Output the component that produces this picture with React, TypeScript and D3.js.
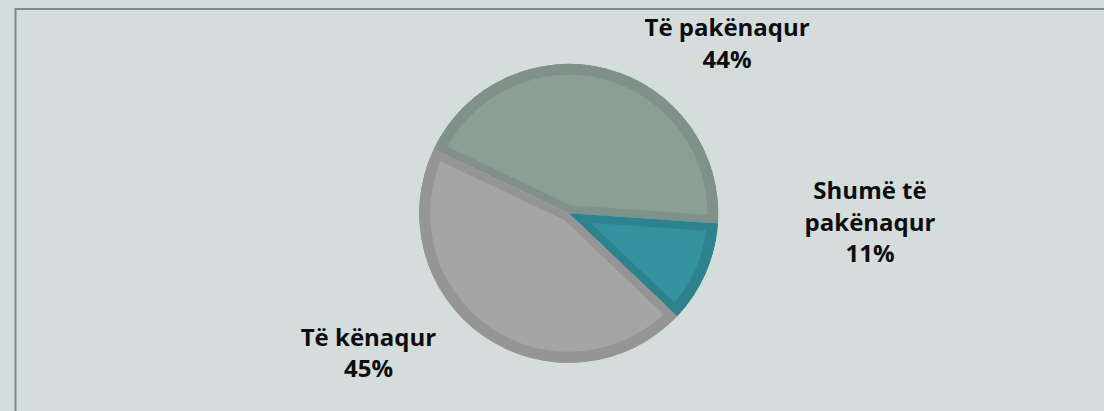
import React from 'react';
import * as d3 from 'd3';

// ---- data ----
const categories = ['Të pakënaqur', 'Shumë të pakënaqur', 'Të kënaqur'];
const values = [44, 11, 45];
const labelLines = [
  ['Të pakënaqur', '44%'],
  ['Shumë të', 'pakënaqur', '11%'],
  ['Të kënaqur', '45%'],
];
const fillColors = ['#8c9f97', '#35929f', '#a5a5a5'];
const strokeColors = ['#7f9189', '#2e828d', '#959595'];

// ---- layout ----
const W = 1104;
const H = 411;
const CX = 568.7;
const CY = 213.3;
const R = 149.5;
const RING = 11; // outer ring thickness
const EDGE = 8; // radial edge band thickness (per slice)
const START_DEG = -64.5;
// label anchors in polar form (degrees clockwise from top, radius as multiple of R)
const labelPolar = [
  { deg: 44.5, k: 1.512 },
  { deg: 93.3, k: 2.019 },
  { deg: 233.5, k: 1.666 },
];
const LINE_H = 31.5;

export default function App() {
  const toRad = (d: number) => (d * Math.PI) / 180;
  const pie = d3
    .pie<number>()
    .sort(null)
    .value((d) => d)
    .startAngle(toRad(START_DEG))
    .endAngle(toRad(START_DEG + 360));
  const arcs = pie(values);
  const arc = d3.arc<d3.PieArcDatum<number>>().innerRadius(0).outerRadius(R);
  const ring = d3.arc<d3.PieArcDatum<number>>().innerRadius(R - RING).outerRadius(R);
  const tr = `translate(${CX},${CY})`;

  return (
    <svg
      width={W}
      height={H}
      style={{ position: 'absolute', left: 0, top: 0, display: 'block' }}
      fontFamily="'Open Sans', sans-serif"
    >
      <rect x={0} y={0} width={W} height={H} fill="#d4dddc" />
      <rect x={15.5} y={9} width={1300} height={600} fill="none" stroke="#7a8f8b" strokeWidth={2} />
      <defs>
        {arcs.map((a, i) => (
          <clipPath id={`slice-clip-${i}`} key={i}>
            <path d={arc(a) || ''} transform={tr} />
          </clipPath>
        ))}
      </defs>
      {arcs.map((a, i) => (
        <g key={categories[i]} clipPath={`url(#slice-clip-${i})`}>
          <path
            d={arc(a) || ''}
            transform={tr}
            fill={fillColors[i]}
            stroke={strokeColors[i]}
            strokeWidth={EDGE * 2}
            strokeLinejoin="miter"
          />
          <path d={ring(a) || ''} transform={tr} fill={strokeColors[i]} />
        </g>
      ))}
      {labelLines.map((lines, i) => {
        const p = labelPolar[i];
        const x = CX + R * p.k * Math.sin(toRad(p.deg));
        const yMid = CY - R * p.k * Math.cos(toRad(p.deg));
        const y0 = yMid - ((lines.length - 1) / 2) * LINE_H;
        return (
          <text
            key={i}
            x={x}
            y={y0}
            textAnchor="middle"
            fontSize={24}
            fontWeight={700}
            fill="#0d0d0d"
          >
            {lines.map((l, j) => (
              <tspan key={j} x={x} y={y0 + j * LINE_H}>
                {l}
              </tspan>
            ))}
          </text>
        );
      })}
    </svg>
  );
}
